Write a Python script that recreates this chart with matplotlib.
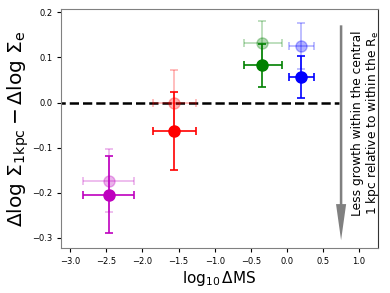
import numpy as np
import matplotlib
matplotlib.use("Agg")
import matplotlib.pyplot as plt

# ---- values ----
colors = ['m', 'r', 'g', 'b']
x_ms = [-2.47, -1.56, -0.34, 0.20]
x_lo = [0.36, 0.30, 0.25, 0.17]
x_hi = [0.35, 0.30, 0.27, 0.17]

# solid points
y_dark = [-0.204, -0.063, 0.083, 0.057]
y_dark_lo = [0.086, 0.087, 0.048, 0.046]
y_dark_hi = [0.086, 0.087, 0.047, 0.045]

# faint points
y_light = [-0.174, 0.000, 0.132, 0.125]
y_light_lo = [0.069, 0.072, 0.049, 0.051]
y_light_hi = [0.071, 0.072, 0.049, 0.051]

fig, ax = plt.subplots(figsize=(3.9, 2.93), dpi=100)

for i, c in enumerate(colors):
    ax.errorbar(x_ms[i], y_light[i], xerr=[[x_lo[i]], [x_hi[i]]],
                yerr=[[y_light_lo[i]], [y_light_hi[i]]], fmt='o', color=c,
                alpha=0.3, ms=8, capsize=3, elinewidth=1.2, capthick=1.2)
    ax.errorbar(x_ms[i], y_dark[i], xerr=[[x_lo[i]], [x_hi[i]]],
                yerr=[[y_dark_lo[i]], [y_dark_hi[i]]], fmt='o', color=c,
                ms=8, capsize=3, elinewidth=1.2, capthick=1.2)

ax.plot([-3.2, 0.72], [0, 0], 'k--', lw=1.8, zorder=0)

ax.arrow(0.75, 0.171, 0, -0.476, width=0.035, head_width=0.14,
         head_length=0.08, length_includes_head=True, color='gray', lw=0)
ax.text(1.09, -0.046, 'Less growth within the central\n1 kpc relative to within the R$_{\\rm e}$',
        rotation=90, ha='center', va='center', fontsize=8.8, linespacing=1.0)

ax.set_xlim(-3.125, 1.26)
ax.set_ylim(-0.322, 0.207)
ax.set_xticks(np.arange(-3.0, 1.01, 0.5))
ax.set_yticks(np.arange(-0.3, 0.21, 0.1))
ax.tick_params(labelsize=6, length=3, width=0.8)
ax.set_xlabel(r'$\log_{10}\Delta\mathrm{MS}$', fontsize=11, labelpad=2)
ax.set_ylabel(r'$\Delta\log\,\Sigma_{\rm 1kpc}-\Delta\log\,\Sigma_{\rm e}$', fontsize=14.5, labelpad=1)
for s in ['left', 'top', 'bottom']:
    ax.spines[s].set_color('gray')
ax.spines['right'].set_color('0.2')

fig.subplots_adjust(left=0.157, right=0.969, top=0.969, bottom=0.154)
fig.savefig('out.png', dpi=100)
